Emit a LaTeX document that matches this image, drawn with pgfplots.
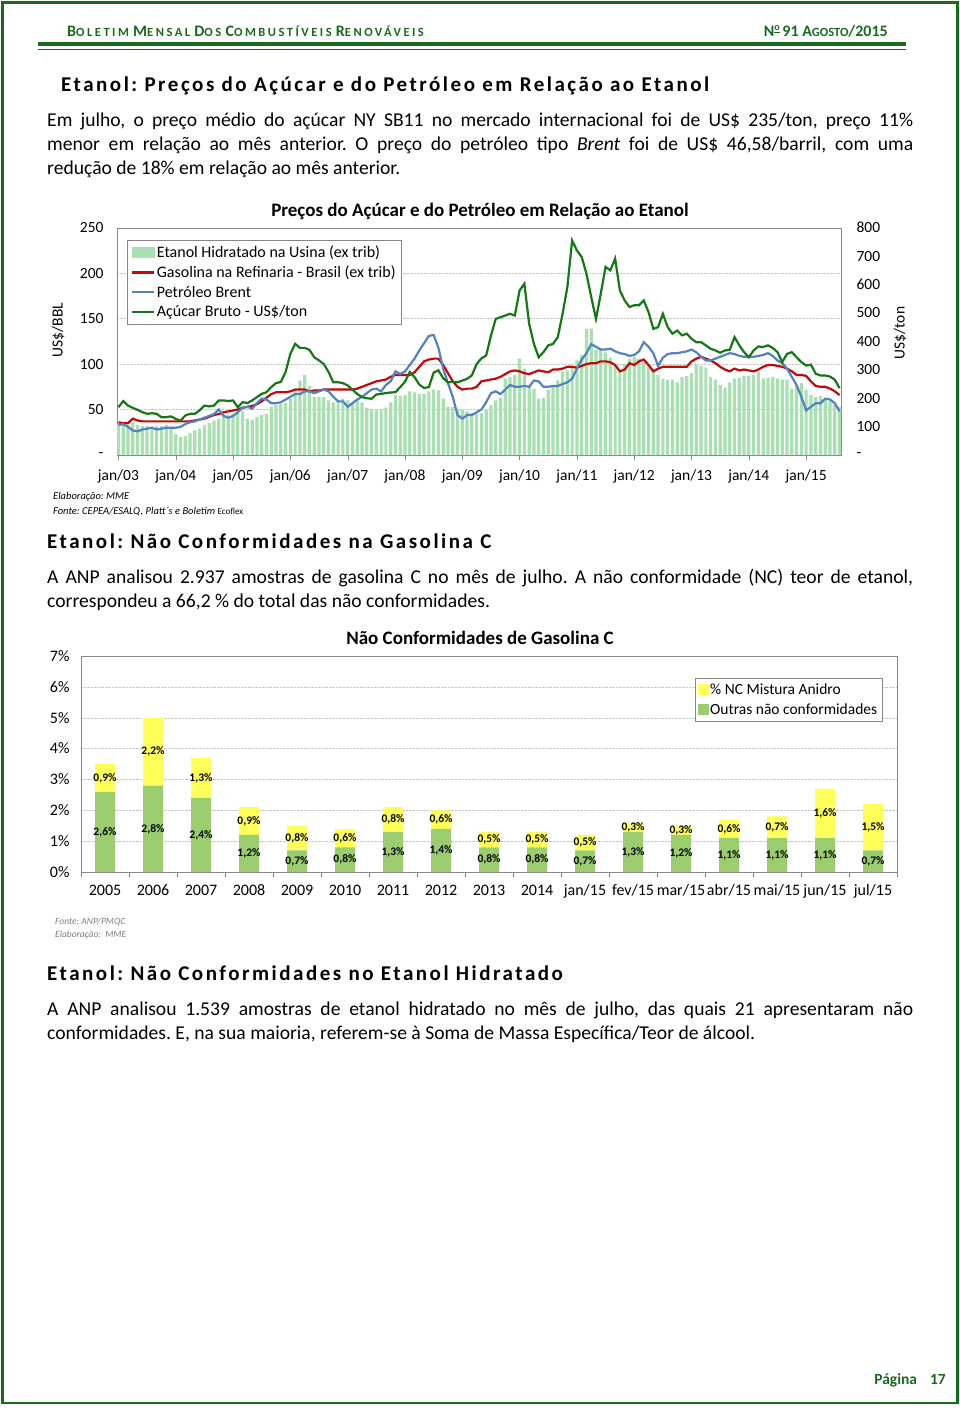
\documentclass[border=0pt]{standalone}
\usepackage{fontspec}
\setmainfont{Carlito}
\newfontfamily\spaced[LetterSpace=12]{Carlito}
\newfontfamily\hdrfont[LetterSpace=20]{Carlito}
\usepackage{pgfplots}
\usepackage{pgfplotstable}
\pgfplotsset{compat=1.18}
\definecolor{hdrgreen}{RGB}{25,105,30}
\definecolor{barmint}{RGB}{168,224,178}
\definecolor{gasred}{RGB}{192,10,10}
\definecolor{brentblue}{RGB}{84,130,190}
\definecolor{sugargreen}{RGB}{20,120,20}
\definecolor{ncyellow}{RGB}{255,255,90}
\definecolor{ncgreen}{RGB}{155,205,110}
\definecolor{axisgray}{RGB}{134,134,134}
\newcommand{\scw}[2]{{\fontsize{16}{15}\selectfont #1}{\fontsize{12.5}{12}\selectfont #2}}
\frenchspacing

\pgfplotstableread{
i E R B S
0 34 36 33 168
1 33 35 34 190
2 33 35 31 174
3 35 40 27 166
4 33 38 26 159
5 32 37 28 151
6 32 37 29 145
7 31 37 30 147
8 32 37 28 145
9 32 37 29 133
10 33 37 30 133
11 31 37 30 136
12 23 37 30 127
13 20 37 31 121
14 21 37 34 139
15 24 37 36 145
16 27 38 37 145
17 29 39 39 157
18 33 40 41 174
19 35 42 43 171
20 38 44 45 174
21 40 45 50 192
22 42 47 43 192
23 44 48 41 190
24 45 49 43 192
25 46 50 47 168
26 48 52 52 186
27 40 53 53 183
28 39 54 51 192
29 42 56 57 204
30 44 59 62 215
31 45 63 61 221
32 53 67 57 239
33 55 69 57 253
34 56 69 58 257
35 57 69 61 292
36 62 70 64 356
37 72 72 67 391
38 82 72 67 377
39 88 72 70 377
40 76 70 70 370
41 64 71 68 344
42 64 71 70 333
43 64 72 72 320
44 60 72 70 292
45 58 72 64 256
46 60 72 59 256
47 62 72 59 253
48 60 72 53 245
49 58 72 57 230
50 60 73 61 215
51 58 75 64 204
52 52 77 68 200
53 50 79 72 198
54 49 81 73 213
55 50 82 70 215
56 52 83 77 218
57 58 86 81 220
58 66 88 92 221
59 65 88 89 239
60 66 88 92 258
61 70 88 99 292
62 69 91 106 274
63 67 97 115 248
64 67 103 123 236
65 70 105 131 239
66 72 106 132 290
67 71 106 118 298
68 62 99 95 270
69 53 90 79 256
70 53 81 64 258
71 51 75 44 256
72 50 72 40 262
73 48 73 44 268
74 46 73 44 280
75 45 75 47 320
76 46 81 50 340
77 50 82 58 350
78 55 83 68 420
79 60 84 70 479
80 63 86 67 485
81 84 89 72 491
82 86 92 77 497
83 88 93 75 491
84 106 92 75 579
85 95 90 76 603
86 75 89 75 462
87 73 91 82 391
88 62 93 81 344
89 63 92 75 362
90 72 91 75 386
91 75 94 76 391
92 82 94 76 415
93 92 95 78 497
94 93 97 80 591
95 97 97 84 755
96 104 96 95 720
97 110 98 105 697
98 139 100 112 638
99 139 101 122 556
100 116 101 119 479
101 117 103 116 568
102 113 103 116 662
103 107 102 117 650
104 98 99 114 691
105 93 92 112 579
106 100 94 111 544
107 106 101 109 521
108 108 99 110 527
109 106 103 114 527
110 103 105 124 544
111 99 99 119 503
112 95 92 112 444
113 88 95 98 450
114 84 97 107 497
115 83 97 111 450
116 83 97 112 427
117 80 97 112 438
118 86 97 113 421
119 87 97 114 427
120 90 103 116 409
121 99 106 113 397
122 98 108 108 397
123 96 106 104 386
124 86 104 104 374
125 83 101 106 368
126 77 97 108 360
127 74 94 110 368
128 80 92 112 370
129 84 95 111 415
130 85 93 109 386
131 87 94 108 362
132 87 93 108 344
133 88 92 108 368
134 92 94 109 382
135 84 97 110 380
136 85 99 112 386
137 86 99 109 377
138 84 98 104 362
139 83 97 101 327
140 83 95 95 356
141 73 92 86 362
142 77 88 77 344
143 79 88 64 327
144 72 87 49 315
145 66 81 53 318
146 64 76 57 286
147 65 75 57 280
148 62 75 62 280
149 59 73 61 276
150 55 70 57 265
151 53 66 48 235
}\pricetable

\pgfplotstableread{
x g a gc ac gl al
0 2.6 0.9 1.3 3.05 2,6 0,9
1 2.8 2.2 1.4 3.9 2,8 2,2
2 2.4 1.3 1.2 3.05 2,4 1,3
3 1.2 0.9 0.6 1.65 1,2 0,9
4 0.7 0.8 0.35 1.1 0,7 0,8
5 0.8 0.6 0.4 1.1 0,8 0,6
6 1.3 0.8 0.65 1.7 1,3 0,8
7 1.4 0.6 0.7 1.7 1,4 0,6
8 0.8 0.5 0.4 1.05 0,8 0,5
9 0.8 0.5 0.4 1.05 0,8 0,5
10 0.7 0.5 0.35 0.95 0,7 0,5
11 1.3 0.3 0.65 1.45 1,3 0,3
12 1.2 0.3 0.6 1.35 1,2 0,3
13 1.1 0.6 0.55 1.4 1,1 0,6
14 1.1 0.7 0.55 1.45 1,1 0,7
15 1.1 1.6 0.55 1.9 1,1 1,6
16 0.7 1.5 0.35 1.45 0,7 1,5
}\nctable

\begin{document}
\begin{tikzpicture}
\path[use as bounding box] (0,0) rectangle (960pt,-1409pt);
\fill[white] (0,0) rectangle (960pt,-1409pt);
\draw[hdrgreen, line width=2.5pt] (2.5pt,-2.5pt) rectangle (957.5pt,-1403pt);

% header
\node[anchor=base west, inner sep=0, text=hdrgreen, font=\hdrfont\bfseries] at (67pt,-36pt)
 {\scw{B}{OLETIM} \scw{M}{ENSAL} \scw{D}{OS} \scw{C}{OMBUSTÍVEIS} \scw{R}{ENOVÁVEIS}};
\node[anchor=base east, inner sep=0, text=hdrgreen, font=\bfseries] at (888pt,-36pt)
 {{\fontsize{16}{15}\selectfont N\raisebox{5.5pt}{\fontsize{10}{10}\selectfont\underline{o}}\,91 }\scw{A}{GOSTO}{\fontsize{16}{15}\selectfont/2015}};
\draw[hdrgreen, line width=4pt] (38pt,-44pt) -- (906pt,-44pt);
\draw[hdrgreen, line width=1.5pt] (38pt,-49.5pt) -- (906pt,-49.5pt);

% section 1
\node[anchor=base west, inner sep=0, font=\spaced\bfseries\fontsize{21}{22}\selectfont] at (61pt,-91pt)
 {Etanol: Preços do Açúcar e do Petróleo em Relação ao Etanol};
\begin{scope}[every node/.style={anchor=base west, inner sep=0, font=\fontsize{19.6}{20}\selectfont}]
\node at (47pt,-126pt) {\makebox[866pt][s]{Em julho, o preço médio do açúcar NY SB11 no mercado internacional foi de US\$ 235/ton, preço 11\%}};
\node at (47pt,-150pt) {\makebox[866pt][s]{menor em relação ao mês anterior. O preço do petróleo tipo \textit{Brent} foi de US\$ 46,58/barril, com uma}};
\node at (47pt,-174pt) {redução de 18\% em relação ao mês anterior.};
\end{scope}

\node[font=\bfseries\fontsize{19}{20}\selectfont] at (480pt,-211pt) {Preços do Açúcar e do Petróleo em Relação ao Etanol};

\begin{axis}[
  at={(117pt,-455pt)}, anchor=south west,
  scale only axis, width=724pt, height=227.3pt,
  xmin=-0.3, xmax=151.3, ymin=0, ymax=250,
  xtick={0,12,...,144},
  xticklabels={jan/03,jan/04,jan/05,jan/06,jan/07,jan/08,jan/09,jan/10,jan/11,jan/12,jan/13,jan/14,jan/15},
  ytick={0,50,...,250},
  yticklabels={-,50,100,150,200,250},
  ymajorgrids, grid style={densely dotted, gray!45},
  axis line style={axisgray},
  xtick pos=left, ytick pos=left,
  xtick align=outside,
  major tick length=5pt,
  ytick style={draw=none},
  xtick style={axisgray},
  tick label style={font=\fontsize{15.5}{15}\selectfont},
  xticklabel style={yshift=-6pt},
  yticklabel style={xshift=-10pt},
  every axis y label/.style={at={(axis description cs:-0.0815,0.55)}, rotate=90, anchor=center, font=\fontsize{15.5}{15}\selectfont},
  ylabel={US\$/BBL},
]
\addplot[ybar, bar width=3.2pt, bar shift=0pt, fill=barmint, draw=none] table[x=i, y=E] {\pricetable};
\addplot[gasred, line width=2.2pt, mark=none] table[x=i, y=R] {\pricetable};
\addplot[brentblue, line width=2.2pt, mark=none] table[x=i, y=B] {\pricetable};
\end{axis}

\begin{axis}[
  at={(117pt,-455pt)}, anchor=south west,
  scale only axis, width=724pt, height=227.3pt,
  xmin=-0.3, xmax=151.3, ymin=0, ymax=800,
  axis x line=none, axis y line*=right,
  axis line style={draw=none},
  ytick={0,100,...,800},
  yticklabels={-,100,200,300,400,500,600,700,800},
  ytick style={draw=none},
  tick label style={font=\fontsize{15.5}{15}\selectfont},
  yticklabel style={xshift=12pt},
  every axis y label/.style={at={(axis description cs:1.0815,0.537)}, rotate=90, anchor=center, font=\fontsize{15.5}{15}\selectfont},
  ylabel={US\$/ton},
  legend style={at={(axis description cs:0.0138,0.946)}, anchor=north west, draw=axisgray, fill=white,
    font=\fontsize{16}{16}\selectfont, row sep=3pt, inner sep=3.5pt},
  legend cell align=left,
]
\addlegendimage{legend image code/.code={\fill[barmint] (0pt,-5pt) rectangle (22pt,5pt);}}
\addlegendentry{Etanol Hidratado na Usina (ex trib)}
\addlegendimage{legend image code/.code={\draw[gasred, line width=2.2pt] (0pt,0pt) -- (22pt,0pt);}}
\addlegendentry{Gasolina na Refinaria - Brasil (ex trib)}
\addlegendimage{legend image code/.code={\draw[brentblue, line width=2.2pt] (0pt,0pt) -- (22pt,0pt);}}
\addlegendentry{Petróleo Brent}
\addlegendimage{legend image code/.code={\draw[sugargreen, line width=2.2pt] (0pt,0pt) -- (22pt,0pt);}}
\addlegendentry{Açúcar Bruto - US\$/ton}
\addplot[sugargreen, line width=2.2pt, mark=none, forget plot] table[x=i, y=S] {\pricetable};
\end{axis}

\node[anchor=base west, inner sep=0, font=\itshape\fontsize{10.5}{11}\selectfont] at (53pt,-499pt) {Elaboração: MME};
\node[anchor=base west, inner sep=0, font=\itshape\fontsize{10.5}{11}\selectfont] at (53pt,-514pt) {Fonte: CEPEA/ESALQ, Platt´s e Boletim {\upshape\fontsize{9}{9}\selectfont Ecoflex}};

% section 2
\node[anchor=base west, inner sep=0, font=\spaced\bfseries\fontsize{21}{22}\selectfont] at (47pt,-548pt)
 {Etanol: Não Conformidades na Gasolina C};
\begin{scope}[every node/.style={anchor=base west, inner sep=0, font=\fontsize{19.6}{20}\selectfont}]
\node at (47pt,-583pt) {\makebox[866pt][s]{A ANP analisou 2.937 amostras de gasolina C no mês de julho. A não conformidade (NC) teor de etanol,}};
\node at (47pt,-607pt) {correspondeu a 66,2 \% do total das não conformidades.};
\end{scope}

\node[font=\bfseries\fontsize{19}{20}\selectfont] at (480pt,-638pt) {Não Conformidades de Gasolina C};

\begin{axis}[
  at={(81pt,-872pt)}, anchor=south west,
  scale only axis, width=816pt, height=216pt,
  xmin=-0.5, xmax=16.5, ymin=0, ymax=7,
  ybar stacked, bar width=20pt,
  xtick={0,...,16},
  xticklabels={2005,2006,2007,2008,2009,2010,2011,2012,2013,2014,jan/15,fev/15,mar/15,abr/15,mai/15,jun/15,jul/15},
  minor xtick={-0.5,0.5,...,16.5},
  ytick={0,...,7},
  yticklabels={0\%,1\%,2\%,3\%,4\%,5\%,6\%,7\%},
  ymajorgrids, grid style={densely dotted, gray!45},
  axis line style={axisgray},
  xtick pos=left, ytick pos=left,
  xtick align=outside,
  major tick length=0pt, minor tick length=5pt,
  minor tick style={axisgray},
  tick label style={font=\fontsize{16}{15}\selectfont},
  xticklabel style={text height=11pt, text depth=3pt, yshift=-9pt},
  yticklabel style={xshift=-8pt},
]
\addplot[fill=ncgreen, draw=none] table[x=x, y=g] {\nctable};
\addplot[fill=ncyellow, draw=none] table[x=x, y=a] {\nctable};
\end{axis}

\begin{axis}[
  at={(81pt,-872pt)}, anchor=south west,
  scale only axis, width=816pt, height=216pt,
  xmin=-0.5, xmax=16.5, ymin=0, ymax=7,
  hide axis,
  legend style={at={(axis description cs:0.752,0.898)}, anchor=north west, draw=axisgray, fill=white,
    font=\fontsize{15.5}{15}\selectfont, row sep=4pt, inner sep=3pt},
  legend cell align=left,
  every node near coord/.append style={anchor=center, font=\bfseries\fontsize{11.5}{11}\selectfont, text=black},
]
\addlegendimage{legend image code/.code={\fill[ncyellow] (2pt,-5pt) rectangle (12pt,5pt);}}
\addlegendentry{\% NC Mistura Anidro}
\addlegendimage{legend image code/.code={\fill[ncgreen] (2pt,-5pt) rectangle (12pt,5pt);}}
\addlegendentry{Outras não conformidades}
\addplot[draw=none, mark=none, forget plot, nodes near coords={\pgfplotspointmeta\%}, point meta=explicit symbolic] table[x=x, y=gc, meta=gl] {\nctable};
\addplot[draw=none, mark=none, forget plot, nodes near coords={\pgfplotspointmeta\%}, point meta=explicit symbolic] table[x=x, y=ac, meta=al] {\nctable};
\end{axis}

\node[anchor=base west, inner sep=0, text=gray, font=\itshape\fontsize{9.5}{10}\selectfont] at (55pt,-924pt) {Fonte: ANP/PMQC};
\node[anchor=base west, inner sep=0, text=gray, font=\itshape\fontsize{9.5}{10}\selectfont] at (55pt,-937pt) {Elaboração:\ \ MME};

% section 3
\node[anchor=base west, inner sep=0, font=\spaced\bfseries\fontsize{21}{22}\selectfont] at (47pt,-980pt)
 {Etanol: Não Conformidades no Etanol Hidratado};
\begin{scope}[every node/.style={anchor=base west, inner sep=0, font=\fontsize{19.6}{20}\selectfont}]
\node at (47pt,-1015pt) {\makebox[866pt][s]{A ANP analisou 1.539 amostras de etanol hidratado no mês de julho, das quais 21 apresentaram não}};
\node at (47pt,-1039pt) {conformidades. E, na sua maioria, referem-se à Soma de Massa Específica/Teor de álcool.};
\end{scope}

% footer
\node[anchor=base east, inner sep=0, text=hdrgreen, font=\bfseries\fontsize{15.5}{16}\selectfont] at (946pt,-1384pt) {Página\hspace{13pt}17};
\end{tikzpicture}
\end{document}
